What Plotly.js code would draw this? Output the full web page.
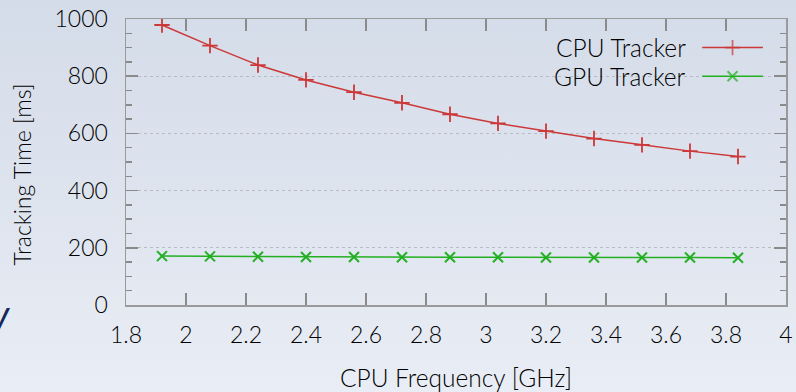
<!DOCTYPE html>
<html>
<head>
<meta charset="utf-8">
<script src="https://cdn.plot.ly/plotly-3.0.1.min.js"></script>
<style>
html,body{margin:0;padding:0;width:796px;height:392px;overflow:hidden;
background:linear-gradient(to bottom,#d4dce9 0%,#dfe5ef 55%,#e9edf5 100%);}
#chart{width:796px;height:392px;}
</style>
</head>
<body>
<div id="chart"></div>
<script>
// Data
const cpuFreq = [1.92, 2.08, 2.24, 2.40, 2.56, 2.72, 2.88, 3.04, 3.20, 3.36, 3.52, 3.68, 3.84];
const cpuTracker = [979, 907, 839, 787, 744, 707, 667, 635, 608, 582, 560, 538, 519];
const gpuTracker = [171, 170, 169, 168, 168, 167, 167, 167, 166, 166, 166, 166, 165];
const seriesNames = ["CPU Tracker", "GPU Tracker"];
const xTicks = [1.8, 2, 2.2, 2.4, 2.6, 2.8, 3, 3.2, 3.4, 3.6, 3.8, 4];
const xTickText = ["1.8", "2", "2.2", "2.4", "2.6", "2.8", "3", "3.2", "3.4", "3.6", "3.8", "4"];
const yTicks = [0, 200, 400, 600, 800, 1000];

const red = "#cc3838";
const green = "#22b022";
const FONT = "Lato, 'DejaVu Sans', sans-serif";
const TXT = {family: FONT, size: 23, color: "#000000", weight: 300};
const TXT24 = {family: FONT, size: 24.5, color: "#000000", weight: 300};

const traces = [
  {x: cpuFreq, y: cpuTracker, name: seriesNames[0], mode: "lines+markers",
   line: {color: red, width: 1.5},
   marker: {symbol: "cross-thin", size: 11, line: {color: red, width: 1.8}, color: red},
   showlegend: false},
  {x: cpuFreq, y: gpuTracker, name: seriesNames[1], mode: "lines+markers",
   line: {color: green, width: 1.5},
   marker: {symbol: "x-thin", size: 10, line: {color: green, width: 2}, color: green},
   showlegend: false},
  // legend samples on an invisible overlay axis (0..1)
  {x: [0.873, 0.919, 0.965], y: [0.9, 0.9, 0.9], xaxis: "x2", yaxis: "y2", mode: "lines+markers",
   line: {color: red, width: 1.5}, hoverinfo: "skip",
   marker: {symbol: "cross-thin", size: [0, 11, 0], line: {color: red, width: 1.8}, color: red},
   showlegend: false},
  {x: [0.873, 0.919, 0.965], y: [0.8, 0.8, 0.8], xaxis: "x2", yaxis: "y2", mode: "lines+markers",
   line: {color: green, width: 1.5}, hoverinfo: "skip",
   marker: {symbol: "x-thin", size: [0, 10, 0], line: {color: green, width: 2}, color: green},
   showlegend: false}
];

const axisCommon = {
  showline: true, linecolor: "#9a9a9a", linewidth: 1.5, mirror: "ticks",
  ticks: "inside", ticklen: 12, tickwidth: 1.5, tickcolor: "#8a8a8a",
  tickfont: TXT, zeroline: false
};

const layout = {
  width: 796, height: 392,
  paper_bgcolor: "rgba(0,0,0,0)", plot_bgcolor: "rgba(0,0,0,0)",
  margin: {l: 126, r: 10, t: 19, b: 87},
  font: {family: FONT, color: "#000000"},
  xaxis: Object.assign({}, axisCommon, {
    range: [1.8, 4], tickmode: "array", tickvals: xTicks, ticktext: xTickText,
    showgrid: false, ticklabelstandoff: 9,
    title: {text: "CPU Frequency [GHz]", font: TXT24, standoff: 25}
  }),
  yaxis: Object.assign({}, axisCommon, {
    range: [0, 1000], tickmode: "array", tickvals: yTicks,
    showgrid: true, gridcolor: "#b8bcc4", griddash: "dot", gridwidth: 1,
    ticklabelstandoff: 12,
    minor: {dtick: 50, ticks: "inside", ticklen: 6, tickcolor: "#8a8a8a", tickwidth: 1.5, showgrid: false}
  }),
  xaxis2: {overlaying: "x", range: [0, 1], visible: false, fixedrange: true},
  yaxis2: {overlaying: "y", range: [0, 1], visible: false, fixedrange: true},
  annotations: [
    {xref: "paper", yref: "paper", x: -0.158, y: 0.455, xanchor: "center", yanchor: "middle",
     textangle: -90, text: "Tracking Time [ms]", showarrow: false, font: TXT},
    {xref: "paper", yref: "paper", x: 0.852, y: 0.9, xanchor: "right", yanchor: "middle",
     text: seriesNames[0], showarrow: false, font: TXT24},
    {xref: "paper", yref: "paper", x: 0.852, y: 0.8, xanchor: "right", yanchor: "middle",
     text: seriesNames[1], showarrow: false, font: TXT24},
    {xref: "paper", yref: "paper", x: -0.172, y: -0.052, xanchor: "right", yanchor: "middle",
     text: "<i>V</i>", showarrow: false, font: {family: FONT, size: 34, color: "#15275a"}}
  ]
};

Plotly.newPlot("chart", traces, layout, {displayModeBar: false, staticPlot: true});
</script>
</body>
</html>
